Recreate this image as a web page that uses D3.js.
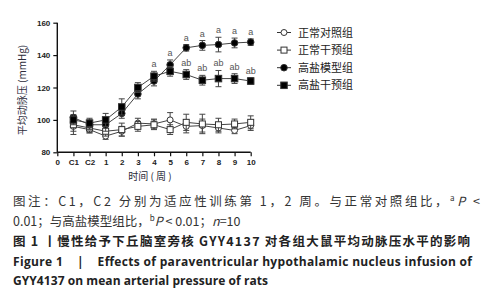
<!DOCTYPE html>
<html><head><meta charset="utf-8">
<script src="https://cdn.jsdelivr.net/npm/d3@7/dist/d3.min.js"></script>
<style>body{margin:0;background:#fff}svg{display:block}</style>
</head><body>
<svg id="c" width="487" height="300"></svg>
<script>
const categories = ["0","C1","C2","1","2","3","4","5","6","7","8","9","10"];
const dataCats = ["C1","C2","1","2","3","4","5","6","7","8","9","10"];
const seriesNames = ["正常对照组","正常干预组","高盐模型组","高盐干预组"];
const normalControl = [96,94,90,93,98,97.5,100,96,96.5,95,93.5,96.5];
const normalControlSD = [3,2,2,3,3,3,4.5,4,4,3,2,3];
const normalIntervention = [97,95,93,94,96,97,94,98.5,97.5,97,97.5,98.5];
const normalInterventionSD = [6,3,3,4,3,3,3,5,6,4,3,4];
const highSaltModel = [101.5,97,97,104,116,124,134,144.5,146,146.5,147.5,148];
const highSaltModelSD = [4,3,4,3,3,3,3,2,3,4.5,3,2];
const highSaltIntervention = [100,98,100,108,120,127,130,128,124.5,125.5,125.5,124];
const highSaltInterventionSD = [3,3,4,5,3,3,3,3,3,5,3,2];
const yTicks = [80,100,120,140,160];
const labelA = ["4","5","6","7","8","9","10"];
const labelAB = ["6","7","8","9","10"];

const svg = d3.select("#c");
const x = d3.scalePoint().domain(categories).range([57.3, 250.7]);
const y = d3.scaleLinear().domain([80,160]).range([152.3, 22.7]);

const series = [
  {name: seriesNames[0], v: normalControl, sd: normalControlSD, shape: "circle", fill: "#fff"},
  {name: seriesNames[1], v: normalIntervention, sd: normalInterventionSD, shape: "square", fill: "#fff"},
  {name: seriesNames[2], v: highSaltModel, sd: highSaltModelSD, shape: "circle", fill: "#000"},
  {name: seriesNames[3], v: highSaltIntervention, sd: highSaltInterventionSD, shape: "square", fill: "#000"}
];

// axes
const yAxis = d3.axisLeft(y).tickValues(yTicks).tickSize(4).tickPadding(3);
const gy = svg.append("g").attr("transform", `translate(${x("0")},0)`).call(yAxis);
const xAxis = d3.axisBottom(x).tickSize(4).tickPadding(3);
const gx = svg.append("g").attr("transform", `translate(0,${y(80)})`).call(xAxis);
[gx, gy].forEach(g => {
  g.select(".domain").attr("stroke", "#111").attr("stroke-width", 1.4);
  g.selectAll(".tick line").attr("stroke", "#111").attr("stroke-width", 1.2);
  g.selectAll(".tick text").attr("fill", "#222").attr("font-family", "Liberation Sans, Arial, sans-serif")
    .attr("font-size", 8).attr("font-weight", "bold");
});
gy.select(".domain").attr("d", `M0,${y(160)}V${y(80)}`);
gx.select(".domain").attr("d", `M${x("0")},0H${x("10")}`);

// axis titles
svg.append("text").attr("transform", `translate(26,90) rotate(-90)`).attr("text-anchor", "middle")
  .attr("font-family", "Noto Sans CJK SC, sans-serif").attr("font-size", 10).attr("fill", "#2b2b3a")
  .text("平均动脉压 (mmHg)");
svg.append("text").attr("x", 150).attr("y", 180).attr("text-anchor", "middle")
  .attr("font-family", "Noto Sans CJK SC, sans-serif").attr("font-size", 10).attr("fill", "#2b2b3a")
  .text("时间 ( 周 )");

function drawMarker(g, shape, fill, cx, cy) {
  if (shape === "circle") {
    g.append("circle").attr("cx", cx).attr("cy", cy).attr("r", fill === "#000" ? 3.3 : 3)
      .attr("fill", fill).attr("stroke", "#333").attr("stroke-width", 1);
  } else {
    const s = fill === "#000" ? 6.5 : 6;
    g.append("rect").attr("x", cx - s/2).attr("y", cy - s/2).attr("width", s).attr("height", s)
      .attr("fill", fill).attr("stroke", "#333").attr("stroke-width", 1);
  }
}

const line = d3.line().x((d,i) => x(dataCats[i])).y(d => y(d));
series.forEach(s => {
  const g = svg.append("g");
  g.append("path").attr("d", line(s.v)).attr("fill", "none").attr("stroke", "#444").attr("stroke-width", 1);
  s.v.forEach((v,i) => {
    const cx = x(dataCats[i]);
    g.append("line").attr("x1", cx).attr("x2", cx).attr("y1", y(v + s.sd[i])).attr("y2", y(v - s.sd[i]))
      .attr("stroke", "#444").attr("stroke-width", 1);
    [v + s.sd[i], v - s.sd[i]].forEach(e => {
      g.append("line").attr("x1", cx - 3).attr("x2", cx + 3).attr("y1", y(e)).attr("y2", y(e))
        .attr("stroke", "#444").attr("stroke-width", 1);
    });
  });
  s.v.forEach((v,i) => drawMarker(g, s.shape, s.fill, x(dataCats[i]), y(v)));
});

// significance labels
const ann = svg.append("g").attr("font-family", "Liberation Sans, Arial, sans-serif").attr("font-size", 9)
  .attr("fill", "#555").attr("text-anchor", "middle");
labelA.forEach(c => {
  const i = dataCats.indexOf(c);
  const top = Math.max(highSaltModel[i] + highSaltModelSD[i], highSaltIntervention[i] + highSaltInterventionSD[i]);
  ann.append("text").attr("x", x(c)).attr("y", y(top) - 4).text("a");
});
labelAB.forEach(c => {
  const i = dataCats.indexOf(c);
  ann.append("text").attr("x", x(c)).attr("y", y(highSaltIntervention[i] + highSaltInterventionSD[i]) - 4).text("ab");
});

// legend
const leg = svg.append("g");
series.forEach((s,k) => {
  const ly = 32.5 + k * 17.6;
  leg.append("line").attr("x1", 277).attr("x2", 291).attr("y1", ly).attr("y2", ly).attr("stroke", "#333").attr("stroke-width", 1);
  drawMarker(leg, s.shape, s.fill, 284, ly);
  leg.append("text").attr("x", 298).attr("y", ly + 4).attr("font-family", "Noto Sans CJK SC, sans-serif")
    .attr("font-size", 11).attr("fill", "#222").text(s.name);
});

// caption
const cap = svg.append("g").attr("fill", "#333");
const t1 = cap.append("text").attr("x", 13).attr("y", 206).attr("font-family", "Noto Sans CJK SC, sans-serif")
  .attr("font-size", 12.5).attr("textLength", 467).attr("lengthAdjust", "spacing");
t1.append("tspan").text("图注：C1，C2 分别为适应性训练第 1，2 周。与正常对照组比，");
t1.append("tspan").attr("font-size", 8).attr("dy", -5).text("a");
t1.append("tspan").attr("dy", 5).attr("font-style", "italic").text("P");
t1.append("tspan").text(" <");
const t2 = cap.append("text").attr("x", 13).attr("y", 226).attr("font-family", "Noto Sans CJK SC, sans-serif")
  .attr("font-size", 12.5);
t2.append("tspan").text("0.01；与高盐模型组比，");
t2.append("tspan").attr("font-size", 8).attr("dy", -5).text("b");
t2.append("tspan").attr("dy", 5).attr("font-style", "italic").text("P");
t2.append("tspan").text(" < 0.01；");
t2.append("tspan").attr("font-style", "italic").text("n");
t2.append("tspan").text("=10");
cap.append("text").attr("x", 13).attr("y", 246).attr("font-family", "Noto Sans CJK SC, sans-serif")
  .attr("font-size", 12.5).attr("font-weight", "bold").attr("fill", "#222")
  .attr("textLength", 457).attr("lengthAdjust", "spacing")
  .text("图 1 丨慢性给予下丘脑室旁核 GYY4137 对各组大鼠平均动脉压水平的影响");
cap.append("text").attr("x", 13).attr("y", 266).attr("font-family", "Open Sans, Noto Sans, sans-serif")
  .attr("font-size", 12).attr("font-weight", "bold").attr("fill", "#222")
  .attr("textLength", 459).attr("lengthAdjust", "spacing").style("white-space", "pre")
  .text("Figure 1    |    Effects of paraventricular hypothalamic nucleus infusion of");
cap.append("text").attr("x", 13).attr("y", 285).attr("font-family", "Open Sans, Noto Sans, sans-serif")
  .attr("font-size", 12).attr("font-weight", "bold").attr("fill", "#222")
  .attr("textLength", 255).attr("lengthAdjust", "spacing")
  .text("GYY4137 on mean arterial pressure of rats");
</script>
</body></html>
